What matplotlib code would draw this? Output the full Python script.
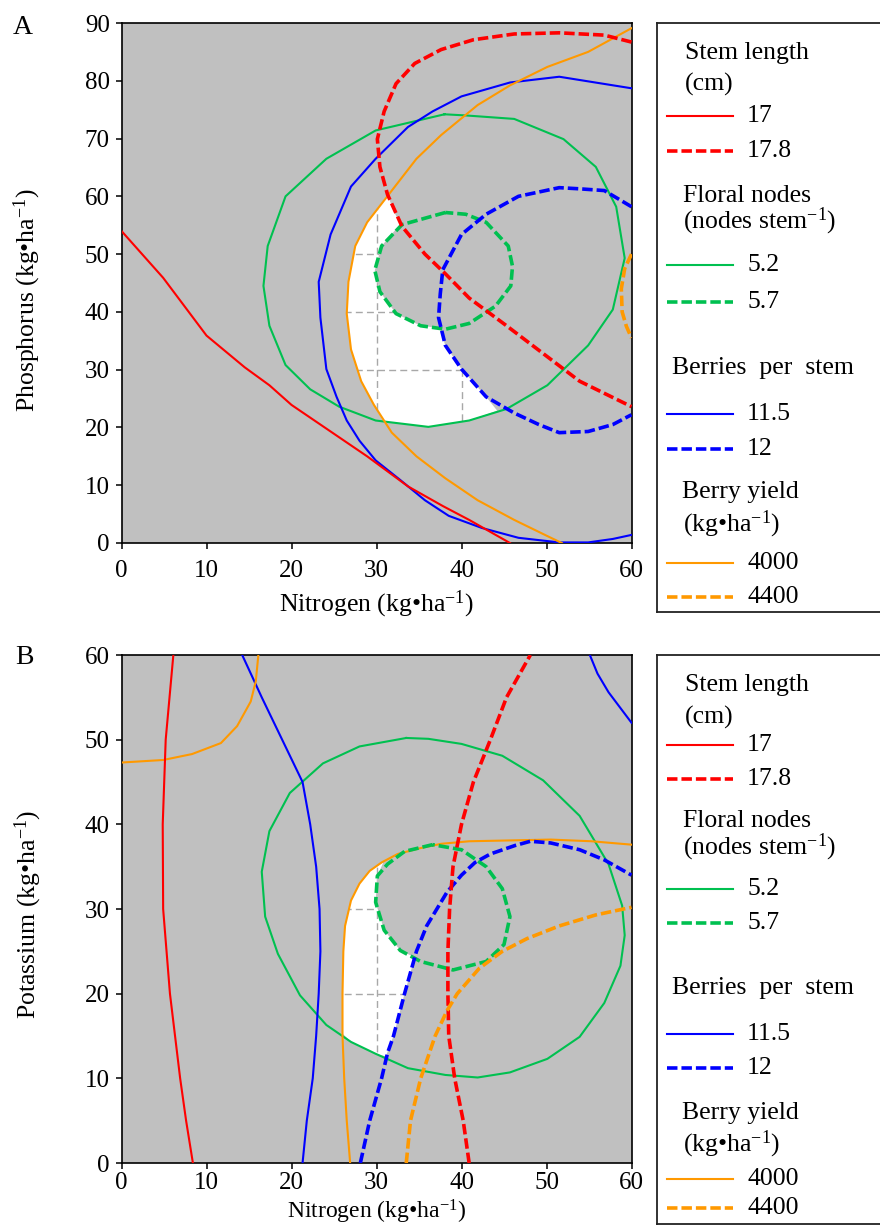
import matplotlib
matplotlib.use('Agg')
import matplotlib.pyplot as plt
from matplotlib.patches import Polygon

plt.rcParams['font.family'] = ['Liberation Serif', 'DejaVu Serif']
plt.rcParams['mathtext.fontset'] = 'custom'
plt.rcParams['mathtext.rm'] = 'Liberation Serif'
plt.rcParams['mathtext.it'] = 'Liberation Serif:italic'

# ---------------- DATA: panel A (Nitrogen vs Phosphorus) ----------------
a_stem17_x = [0, 4.9, 10, 14.5, 17.4, 20, 24.1, 28.9, 33.7, 37.8, 40.9, 45.7]
a_stem17_y = [54, 45.9, 35.9, 30.4, 27.3, 23.9, 19.8, 15.0, 9.8, 6.4, 4.0, 0]

a_stem178_x = [60, 56.8, 51.5, 46.2, 41.4, 37.6, 34.5, 32.3, 30.9, 30.1, 30.4, 31.3, 33, 35.7, 38.1, 40.9, 45.3, 49.6, 53.9, 60]
a_stem178_y = [86.7, 87.9, 88.3, 88.1, 87.1, 85.4, 83, 79.5, 74.7, 69.9, 65.1, 60.3, 54.8, 50, 46.6, 42.4, 37.6, 32.8, 28, 23.6]

a_nodes52_x = [38, 29.9, 24.1, 19.3, 17.2, 16.7, 17.4, 19.3, 22.2, 25.6, 29.9, 36.1, 40.9, 45.3, 50.1, 54.9, 57.8, 59.2, 58.2, 55.8, 52, 46.2, 40.5, 38]
a_nodes52_y = [74.2, 71.4, 66.5, 60, 51.4, 44.5, 37.6, 30.8, 26.6, 23.6, 21.2, 20.1, 21.2, 23.2, 27.3, 34.2, 40.4, 49.3, 58.2, 65.1, 69.9, 73.4, 74, 74.2]

a_nodes57_x = [38.1, 33, 30.6, 29.8, 30.4, 32.3, 35.2, 38.1, 40.9, 44, 45.8, 46, 45.5, 42.9, 40.5, 38.1]
a_nodes57_y = [57.2, 55.1, 51.4, 47.2, 43.5, 39.7, 37.6, 37, 38, 41, 44.5, 47.9, 51.4, 55.5, 56.9, 57.2]

a_berry115_x = [60, 51.5, 45.7, 40, 36.6, 33.7, 29.9, 27, 24.6, 23.2, 23.4, 24.1, 25.3, 26.5, 28, 29.9, 32.8, 35.7, 38.5, 42.4, 46.7, 51.5, 54.9, 57.8, 60]
a_berry115_y = [78.7, 80.7, 79.7, 77.3, 74.7, 72, 66.5, 61.7, 53.4, 45.2, 39, 30.1, 25.3, 21.2, 17.7, 14.3, 10.9, 7.4, 4.7, 2.6, 0.9, 0.1, 0.1, 0.7, 1.4]

a_berry12_x = [60, 56.8, 53.9, 51.5, 46.7, 42.9, 40, 37.8, 37.5, 37.3, 38.1, 40, 42.9, 46.2, 49.1, 51.5, 54.9, 57.8, 60]
a_berry12_y = [58.2, 61, 61.3, 61.5, 60, 56.9, 53.4, 47.3, 43.1, 39, 34.2, 30.1, 25.3, 22.5, 20.5, 19.1, 19.3, 20.5, 22.2]

a_yield4000_x = [60, 54.9, 50.1, 45.7, 41.9, 37.6, 34.7, 31.8, 28.9, 27.5, 26.7, 26.5, 27, 28.2, 29.7, 31.8, 34.7, 38.1, 41.9, 46.2, 50.1, 51.8]
a_yield4000_y = [89.1, 85, 82.4, 79.2, 75.8, 70.6, 66.5, 61, 55.5, 51.4, 45.2, 39.7, 33.5, 28, 23.9, 19.1, 15, 11.2, 7.4, 4, 1.2, 0]

a_yield4400_x = [60, 59.2, 58.8, 58.9, 59.4, 60]
a_yield4400_y = [50, 47.5, 44, 40, 37.5, 35.5]

a_region_x = [31.3, 32.0, 32.8, 30.6, 29.8, 30.4, 32.3, 35.2, 37.4, 38.1, 40, 42.9, 44.2, 40.9, 36.1, 30.8, 29.7, 28.2, 27, 26.5, 26.7, 27.5, 28.9, 30.3]
a_region_y = [60.3, 57.5, 55.2, 51.4, 47.2, 43.5, 39.7, 37.6, 37.2, 34.2, 30.1, 25.3, 22.9, 21.2, 20.1, 21.1, 23.9, 28, 33.5, 39.7, 45.2, 51.4, 55.5, 58.3]
a_grid_x = [30, 40]
a_grid_y = [30, 40, 50]

# ---------------- DATA: panel B (Nitrogen vs Potassium) ----------------
b_stem17_x = [6.1, 5.2, 4.85, 4.9, 5.7, 6.9, 7.6, 8.4]
b_stem17_y = [60, 50, 40, 30, 20, 10, 5, 0]

b_stem178_x = [40.9, 40.2, 39.2, 38.5, 38.4, 38.4, 38.6, 39, 40, 41.4, 43.4, 45.3, 48.1]
b_stem178_y = [0, 5, 10, 15, 20, 25, 30, 35, 40, 45, 50, 55, 60]

b_nodes52_x = [33.5, 28, 23.7, 19.8, 17.4, 16.5, 16.9, 18.4, 21, 24.1, 27, 29.9, 33.7, 38.1, 41.9, 45.7, 50.1, 53.9, 56.8, 58.7, 59.2, 58.9, 57.3, 53.9, 49.6, 44.8, 40, 36.1, 33.5]
b_nodes52_y = [50.2, 49.2, 47.2, 43.7, 39.2, 34.4, 29.1, 24.7, 19.8, 16.3, 14.3, 12.9, 11.2, 10.4, 10.1, 10.7, 12.3, 14.9, 18.9, 23.3, 26.9, 30.4, 35.3, 41, 45.2, 48.1, 49.5, 50.1, 50.2]

b_nodes57_x = [36.6, 33.3, 31.3, 30.1, 29.9, 30.9, 32.8, 35.2, 39, 42.9, 45, 45.7, 44.8, 42.9, 40, 36.6]
b_nodes57_y = [37.6, 36.8, 35.3, 33.9, 30.8, 27.5, 25.1, 23.8, 22.8, 23.8, 25.8, 29.1, 32.4, 35, 37, 37.6]

b_berry115a_x = [14.2, 16.5, 18.9, 21.3, 22.2, 22.9, 23.3, 23.4, 23.2, 22.9, 22.5, 21.8, 21.3]
b_berry115a_y = [60, 55, 50, 45, 40, 35, 30, 25, 20, 15, 10, 5, 0]
b_berry115b_x = [55.1, 56.0, 57.3, 60]
b_berry115b_y = [60, 57.8, 55.6, 52]

b_berry12_x = [28.1, 29.2, 30.6, 31.3, 32, 33.3, 34.7, 35.9, 37.1, 38.3, 40, 41.6, 43.4, 46.3, 48.1, 50.5, 53.9, 56.8, 60]
b_berry12_y = [0, 5, 10, 13, 15, 20, 25, 28, 30, 32, 34, 35.5, 36.5, 37.5, 38, 37.8, 37, 35.8, 34]

b_yield4000a_x = [0, 4.9, 8.3, 11.7, 13.6, 15.2, 15.8, 16.1]
b_yield4000a_y = [47.3, 47.6, 48.3, 49.6, 51.6, 54.5, 56.9, 60]
b_yield4000b_x = [26.9, 26.5, 26.2, 26, 26, 26.1, 26.3, 27, 28, 29.2, 30.6, 32.5, 35.2, 37.6, 40.9, 45.7, 50.5, 55.3, 60]
b_yield4000b_y = [0, 5, 10, 15, 20, 25, 28, 31, 33, 34.5, 35.5, 36.5, 37.2, 37.7, 38, 38.1, 38.2, 38, 37.6]

b_yield4400_x = [33.5, 34, 35.2, 36.9, 38.3, 39.5, 42.1, 44.8, 47.7, 51.5, 55.8, 60]
b_yield4400_y = [0, 5, 10, 15, 18, 20, 23, 25, 26.5, 28, 29.3, 30.2]

b_region_x = [30.8, 30.1, 29.9, 30.9, 32.8, 34.5, 33.3, 32, 31.1, 29.9, 27, 26.0, 26, 26.1, 26.3, 27, 28, 29.2]
b_region_y = [35.5, 33.9, 30.8, 27.5, 25.1, 24.3, 20, 15, 12.6, 12.9, 14.3, 15.3, 20, 25, 28, 31, 33, 34.5]
b_grid_x = [30]
b_grid_y = [20, 30]

x_ticks = [0, 10, 20, 30, 40, 50, 60]
a_y_ticks = [0, 10, 20, 30, 40, 50, 60, 70, 80, 90]
b_y_ticks = [0, 10, 20, 30, 40, 50, 60]

# ---------------- STYLE ----------------
RED = '#FF0000'
GREEN = '#00C050'
BLUE = '#0000FF'
ORANGE = '#FF9900'
GRAY = '#C0C0C0'
SOLID_LW = 1.5
DASH_LW = 2.6
DASH = (0, (2.9, 1.1))
FS = 18.5

W, H = 880, 1226
fig = plt.figure(figsize=(W / 100, H / 100), dpi=100)


def px_axes(l, t, r, b):
    return fig.add_axes([l / W, (H - b) / H, (r - l) / W, (b - t) / H])


def style_axes(ax, yticks, ymax, xpad):
    ax.set_facecolor(GRAY)
    ax.set_xlim(0, 60)
    ax.set_ylim(0, ymax)
    ax.set_xticks(x_ticks)
    ax.set_yticks(yticks)
    for s in ax.spines.values():
        s.set_linewidth(1.2)
        s.set_color('black')
    ax.tick_params(direction='out', length=4.5, width=1.1, labelsize=18)
    ax.tick_params(axis='x', pad=xpad)
    ax.tick_params(axis='y', pad=4)


def draw_panel(ax, region, grid_x, grid_y, curves):
    poly = Polygon(list(zip(*region)), closed=True, facecolor='white', edgecolor='none', zorder=1)
    ax.add_patch(poly)
    for gx in grid_x:
        ln = ax.axvline(gx, color='#A8A8A8', lw=1.0, ls=(0, (5, 3)), zorder=1.5)
        ln.set_clip_path(poly)
    for gy in grid_y:
        ln = ax.axhline(gy, color='#A8A8A8', lw=1.0, ls=(0, (5, 3)), zorder=1.5)
        ln.set_clip_path(poly)
    for xs, ys, col, dashed in curves:
        if dashed:
            ax.plot(xs, ys, color=col, lw=DASH_LW, ls=DASH, zorder=3,
                    solid_capstyle='butt', dash_joinstyle='round')
        else:
            ax.plot(xs, ys, color=col, lw=SOLID_LW, zorder=3, solid_joinstyle='round')


xlab_n = 'Nitrogen (kg\u2022ha$^{-1}$)'

# ---------------- Panel A ----------------
axA = px_axes(121.5, 23, 631.5, 543)
style_axes(axA, a_y_ticks, 90, 8)
draw_panel(axA, (a_region_x, a_region_y), a_grid_x, a_grid_y, [
    (a_nodes52_x, a_nodes52_y, GREEN, False),
    (a_berry115_x, a_berry115_y, BLUE, False),
    (a_yield4000_x, a_yield4000_y, ORANGE, False),
    (a_stem17_x, a_stem17_y, RED, False),
    (a_nodes57_x, a_nodes57_y, GREEN, True),
    (a_berry12_x, a_berry12_y, BLUE, True),
    (a_stem178_x, a_stem178_y, RED, True),
    (a_yield4400_x, a_yield4400_y, ORANGE, True),
])
axA.set_xlabel(xlab_n, fontsize=FS)
axA.xaxis.set_label_coords(0.5, -(604 - 543) / 520)
axA.xaxis.label.set_va('center')
axA.set_ylabel('Phosphorus (kg\u2022ha$^{-1}$)', fontsize=FS)
axA.yaxis.set_label_coords(-(121.5 - 27) / 510, (543 - 300) / 520)
axA.yaxis.label.set_va('center')
fig.text(23 / W, 1 - 28 / H, 'A', fontsize=20, ha='center', va='center')

# ---------------- Panel B ----------------
axB = px_axes(121.5, 655, 631.5, 1163)
style_axes(axB, b_y_ticks, 60, 2)
draw_panel(axB, (b_region_x, b_region_y), b_grid_x, b_grid_y, [
    (b_nodes52_x, b_nodes52_y, GREEN, False),
    (b_berry115a_x, b_berry115a_y, BLUE, False),
    (b_berry115b_x, b_berry115b_y, BLUE, False),
    (b_yield4000a_x, b_yield4000a_y, ORANGE, False),
    (b_yield4000b_x, b_yield4000b_y, ORANGE, False),
    (b_stem17_x, b_stem17_y, RED, False),
    (b_nodes57_x, b_nodes57_y, GREEN, True),
    (b_berry12_x, b_berry12_y, BLUE, True),
    (b_stem178_x, b_stem178_y, RED, True),
    (b_yield4400_x, b_yield4400_y, ORANGE, True),
])
axB.set_xlabel(xlab_n, fontsize=17)
axB.xaxis.set_label_coords(0.5, -(1212 - 1163) / 508)
axB.xaxis.label.set_va('center')
axB.set_ylabel('Potassium (kg\u2022ha$^{-1}$)', fontsize=FS)
axB.yaxis.set_label_coords(-(121.5 - 28) / 510, (1163 - 914) / 508)
axB.yaxis.label.set_va('center')
fig.text(24 / W, 1 - 657 / H, 'B', fontsize=20, ha='center', va='center')

# ---------------- Legends ----------------
def legend_box(top, bottom, items):
    lax = px_axes(657, top, 890, bottom)
    lax.set_xlim(657, 890)
    lax.set_ylim(bottom, top)
    lax.set_xticks([])
    lax.set_yticks([])
    lax.set_facecolor('white')
    for s in lax.spines.values():
        s.set_linewidth(1.3)
        s.set_color('#222222')
    for it in items:
        if it[0] == 'text':
            _, s, x, y = it
            lax.text(x, y, s, fontsize=FS, ha='left', va='center')
        else:
            _, col, dashed, label, y = it
            if dashed:
                lax.plot([667, 733], [y, y], color=col, lw=DASH_LW, ls=DASH, solid_capstyle='butt')
            else:
                lax.plot([667, 733], [y, y], color=col, lw=SOLID_LW)
            lax.text(747, y, label, fontsize=FS, ha='left', va='center')


def legend_items(ys):
    return [
        ('text', 'Stem length', 685, ys[0]),
        ('text', '(cm)', 685, ys[1]),
        ('line', RED, False, '17', ys[2]),
        ('line', RED, True, '17.8', ys[3]),
        ('text', 'Floral nodes', 683, ys[4]),
        ('text', '(nodes stem$^{-1}$)', 683, ys[5]),
        ('line', GREEN, False, '5.2', ys[6]),
        ('line', GREEN, True, '5.7', ys[7]),
        ('text', 'Berries  per  stem', 672, ys[8]),
        ('line', BLUE, False, '11.5', ys[9]),
        ('line', BLUE, True, '12', ys[10]),
        ('text', 'Berry yield', 682, ys[11]),
        ('text', '(kg\u2022ha$^{-1}$)', 683, ys[12]),
        ('line', ORANGE, False, '4000', ys[13]),
        ('line', ORANGE, True, '4400', ys[14]),
    ]


legend_box(23, 612, legend_items([53, 84, 116, 151, 196, 221, 265, 302, 368, 414, 449, 492, 524, 563, 597]))
legend_box(655, 1224, legend_items([685, 717, 745, 779, 821, 847, 889, 923, 988, 1034, 1068, 1113, 1144, 1179, 1208]))

fig.savefig('out.png', dpi=100)
